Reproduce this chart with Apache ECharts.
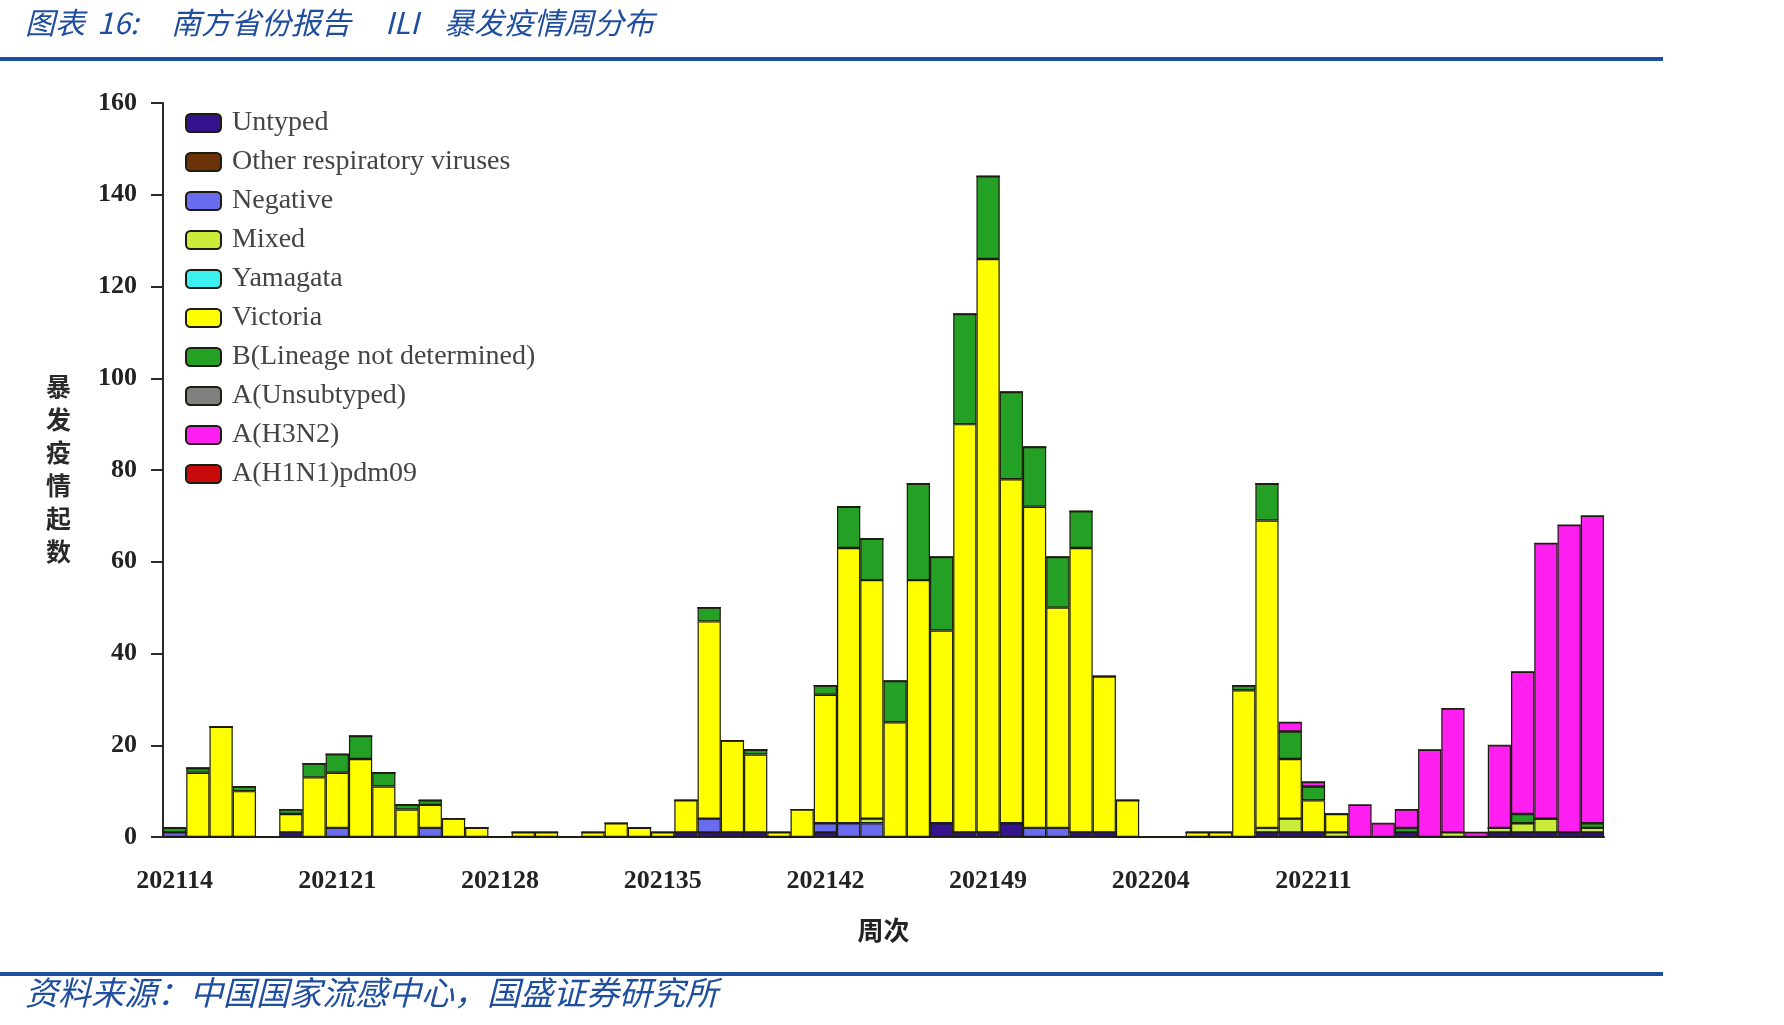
<!DOCTYPE html>
<html>
<head>
    <meta charset="UTF-8">
    <title>南方省份报告 ILI 暴发疫情周分布</title>
    <script src="https://cdn.jsdelivr.net/npm/echarts@6/dist/echarts.min.js"></script>
    <style>
        html, body {
            margin: 0;
            padding: 0;
            background: #fff;
        }

        #chart {
            width: 1784px;
            height: 1025px;
        }
    </style>
</head>
<body>
<div id="chart"></div>
<script>
    // 周次 202114 - 202152, 202201 - 202223
    var weeks = [];
    for (var w = 14; w <= 52; w++) weeks.push('2021' + (w < 10 ? '0' + w : w));
    for (var w2 = 1; w2 <= 23; w2++) weeks.push('2022' + (w2 < 10 ? '0' + w2 : w2));

    var seriesNames = ['Untyped', 'Other respiratory viruses', 'Negative', 'Mixed', 'Yamagata', 'Victoria',
        'B(Lineage not determined)', 'A(Unsubtyped)', 'A(H3N2)', 'A(H1N1)pdm09'];
    var seriesColors = ['#35138f', '#6b3208', '#6a6cf0', '#c9ec3a', '#3cf2f0', '#ffff00',
        '#24a125', '#7f7f7f', '#ff1ff0', '#c80a0a'];

    var untyped = [0, 0, 0, 0, 0, 1, 0, 0, 0, 0, 0, 0, 0, 0, 0, 0, 0, 0, 0, 0, 0, 0, 1, 1, 1, 1, 0, 0, 1, 0,
        0, 0, 0, 3, 1, 1, 3, 0, 0, 1, 1, 0, 0, 0, 0, 0, 0, 1, 1, 1, 0, 0, 0, 1, 0, 0, 0, 1, 1, 1, 1, 1];
    var otherResp = [0, 0, 0, 0, 0, 0, 0, 0, 0, 0, 0, 0, 0, 0, 0, 0, 0, 0, 0, 0, 0, 0, 0, 0, 0, 0, 0, 0, 0, 0,
        0, 0, 0, 0, 0, 0, 0, 0, 0, 0, 0, 0, 0, 0, 0, 0, 0, 0, 0, 0, 0, 0, 0, 0, 0, 0, 0, 0, 0, 0, 0, 0];
    var negative = [1, 0, 0, 0, 0, 0, 0, 2, 0, 0, 0, 2, 0, 0, 0, 0, 0, 0, 0, 0, 0, 0, 0, 3, 0, 0, 0, 0, 2, 3,
        3, 0, 0, 0, 0, 0, 0, 2, 2, 0, 0, 0, 0, 0, 0, 0, 0, 0, 0, 0, 0, 0, 0, 0, 0, 0, 0, 0, 0, 0, 0, 0];
    var mixed = [0, 0, 0, 0, 0, 0, 0, 0, 0, 0, 0, 0, 0, 0, 0, 0, 0, 0, 0, 0, 0, 0, 0, 0, 0, 0, 0, 0, 0, 0,
        1, 0, 0, 0, 0, 0, 0, 0, 0, 0, 0, 0, 0, 0, 0, 0, 0, 1, 3, 0, 1, 0, 0, 0, 0, 1, 0, 1, 2, 3, 0, 1];
    var yamagata = [0, 0, 0, 0, 0, 0, 0, 0, 0, 0, 0, 0, 0, 0, 0, 0, 0, 0, 0, 0, 0, 0, 0, 0, 0, 0, 0, 0, 0, 0,
        0, 0, 0, 0, 0, 0, 0, 0, 0, 0, 0, 0, 0, 0, 0, 0, 0, 0, 0, 0, 0, 0, 0, 0, 0, 0, 0, 0, 0, 0, 0, 0];
    var victoria = [0, 14, 24, 10, 0, 4, 13, 12, 17, 11, 6, 5, 4, 2, 0, 1, 1, 0, 1, 3, 2, 1, 7, 43, 20, 17, 1, 6, 28, 60,
        52, 25, 56, 42, 89, 125, 75, 70, 48, 62, 34, 8, 0, 0, 1, 1, 32, 67, 13, 7, 4, 0, 0, 0, 0, 0, 0, 0, 0, 0, 0, 0];
    var bLineage = [1, 1, 0, 1, 0, 1, 3, 4, 5, 3, 1, 1, 0, 0, 0, 0, 0, 0, 0, 0, 0, 0, 0, 3, 0, 1, 0, 0, 2, 9,
        9, 9, 21, 16, 24, 18, 19, 13, 11, 8, 0, 0, 0, 0, 0, 0, 1, 8, 6, 3, 0, 0, 0, 1, 0, 0, 0, 0, 2, 0, 0, 1];
    var aUnsub = [0, 0, 0, 0, 0, 0, 0, 0, 0, 0, 0, 0, 0, 0, 0, 0, 0, 0, 0, 0, 0, 0, 0, 0, 0, 0, 0, 0, 0, 0,
        0, 0, 0, 0, 0, 0, 0, 0, 0, 0, 0, 0, 0, 0, 0, 0, 0, 0, 0, 0, 0, 0, 0, 0, 0, 0, 0, 0, 0, 0, 0, 0];
    var h3n2 = [0, 0, 0, 0, 0, 0, 0, 0, 0, 0, 0, 0, 0, 0, 0, 0, 0, 0, 0, 0, 0, 0, 0, 0, 0, 0, 0, 0, 0, 0,
        0, 0, 0, 0, 0, 0, 0, 0, 0, 0, 0, 0, 0, 0, 0, 0, 0, 0, 2, 1, 0, 7, 3, 4, 19, 27, 1, 18, 31, 60, 67, 67];
    var h1n1 = [0, 0, 0, 0, 0, 0, 0, 0, 0, 0, 0, 0, 0, 0, 0, 0, 0, 0, 0, 0, 0, 0, 0, 0, 0, 0, 0, 0, 0, 0,
        0, 0, 0, 0, 0, 0, 0, 0, 0, 0, 0, 0, 0, 0, 0, 0, 0, 0, 0, 0, 0, 0, 0, 0, 0, 0, 0, 0, 0, 0, 0, 0];

    var seriesData = [untyped, otherResp, negative, mixed, yamagata, victoria, bLineage, aUnsub, h3n2, h1n1];
    var yTicks = [0, 20, 40, 60, 80, 100, 120, 140, 160];
    // 只标注到 202211
    var lastLabelWeek = '202211';

    var blue = '#1f4e9e';
    var serif = '"Liberation Serif", "DejaVu Serif", serif';
    var cjk = '"Noto Sans CJK SC", sans-serif';

    var buildSeries = function () {
        var list = [];
        for (var i = 0; i < seriesNames.length; i++) {
            list.push({
                name: seriesNames[i]
                , type: 'bar'
                , stack: 'total'
                , barCategoryGap: '0%'
                , data: seriesData[i]
                , itemStyle: {
                    color: seriesColors[i]
                    , borderColor: '#1c1c10'
                    , borderWidth: 1.2
                }
            });
        }
        return list;
    };

    var lastLabelIdx = weeks.indexOf(lastLabelWeek);
    var titleFont = 'italic 30px "Noto Sans CJK SC"';

    var chart = echarts.init(document.getElementById('chart'), null, {renderer: 'canvas'});
    chart.setOption({
        backgroundColor: '#fff'
        , animation: false
        , grid: {left: 163, right: 180, top: 103, bottom: 188}
        , legend: {
            orient: 'vertical'
            , left: 180
            , top: 104
            , icon: 'roundRect'
            , itemWidth: 35
            , itemHeight: 18
            , itemGap: 11
            , data: seriesNames
            , textStyle: {fontFamily: serif, fontSize: 28, color: '#444', padding: [0, 0, 0, 6]}
        }
        , xAxis: [{
            type: 'category'
            , data: weeks
            , name: '周次'
            , nameLocation: 'middle'
            , nameGap: 80
            , nameTextStyle: {fontFamily: cjk, fontWeight: 'bold', fontSize: 26, color: '#222'}
            , axisLine: {lineStyle: {color: '#2a2a2a', width: 2}}
            , axisTick: {interval: 6, length: 10, lineStyle: {color: '#2a2a2a', width: 2}}
            , axisLabel: {
                interval: function (i) {
                    return i % 7 === 0 && i <= lastLabelIdx;
                }
                , margin: 31, fontFamily: serif, fontWeight: 'bold', fontSize: 26, color: '#222'
            }
        }, {
            type: 'category'
            , data: weeks
            , position: 'bottom'
            , axisLine: {show: false}
            , axisTick: {interval: 0, length: 3, lineStyle: {color: '#555', width: 1}}
            , axisLabel: {show: false}
        }]
        , yAxis: {
            type: 'value'
            , min: yTicks[0]
            , max: yTicks[yTicks.length - 1]
            , interval: 20
            , splitLine: {show: false}
            , axisLine: {show: true, lineStyle: {color: '#2a2a2a', width: 2}}
            , axisTick: {show: true, length: 12, lineStyle: {color: '#2a2a2a', width: 2}}
            , axisLabel: {margin: 26, fontFamily: serif, fontWeight: 'bold', fontSize: 26, color: '#222'}
        }
        , series: buildSeries()
        , graphic: [
            {type: 'text', left: 25, top: 8, style: {text: '图表', font: titleFont, fill: blue}}
            , {type: 'text', left: 97, top: 8, style: {text: '16:', font: titleFont, fill: blue}}
            , {type: 'text', left: 171, top: 8, style: {text: '南方省份报告', font: titleFont, fill: blue}}
            , {type: 'text', left: 385, top: 8, style: {text: 'ILI', font: titleFont, fill: blue}}
            , {type: 'text', left: 444, top: 8, style: {text: '暴发疫情周分布', font: titleFont, fill: blue}}
            , {type: 'rect', left: 0, top: 57, shape: {width: 1663, height: 4}, style: {fill: blue}}
            , {type: 'rect', left: 0, top: 972, shape: {width: 1663, height: 4}, style: {fill: blue}}
            , {
                type: 'text', left: 25, top: 976
                , style: {
                    text: '资料来源：中国国家流感中心，国盛证券研究所'
                    , font: 'italic 33px "Noto Sans CJK SC"', fill: blue
                }
            }
            , {
                type: 'text', left: 46, top: 370
                , style: {
                    text: '暴\n发\n疫\n情\n起\n数'
                    , font: 'bold 25px "Noto Sans CJK SC"', fill: '#2a2a2a', lineHeight: 33
                }
            }
        ]
    });
</script>
</body>
</html>
